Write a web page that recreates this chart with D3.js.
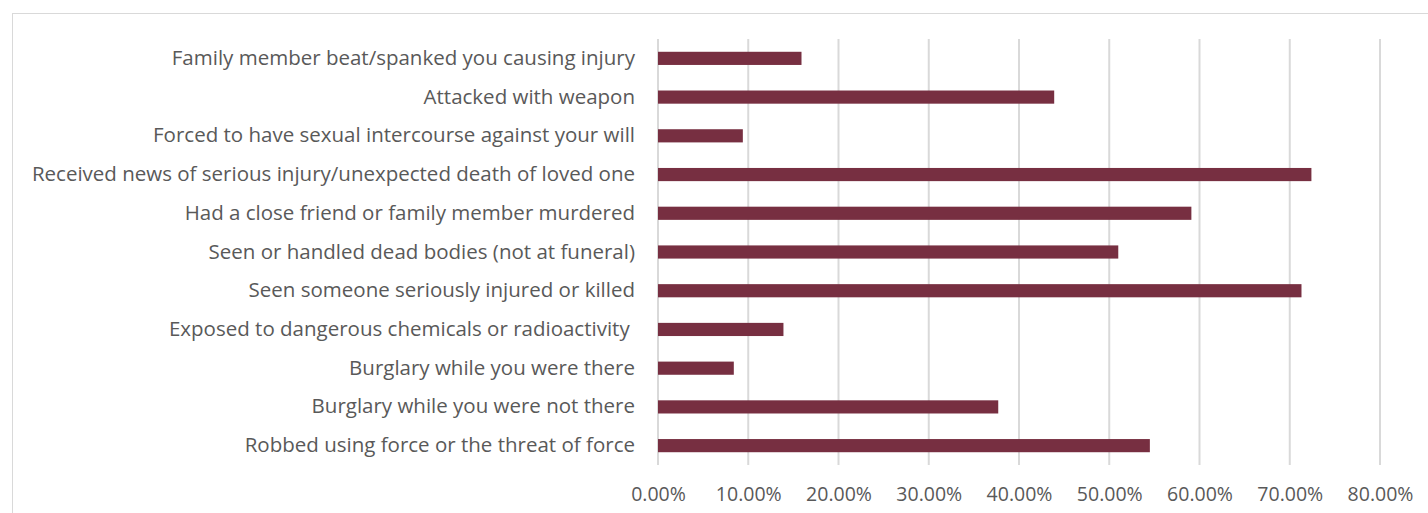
<!DOCTYPE html>
<html>
<head>
<meta charset="utf-8">
<script src="https://cdn.jsdelivr.net/npm/d3@7"></script>
<style>
    body { margin: 0; background: #fff; }
    text { font-family: "Open Sans", Lato, sans-serif; fill: #595959; }
</style>
</head>
<body>
<script>
const categories = [
    "Family member beat/spanked you causing injury",
    "Attacked with weapon",
    "Forced to have sexual intercourse against your will",
    "Received news of serious injury/unexpected death of loved one",
    "Had a close friend or family member murdered",
    "Seen or handled dead bodies (not at funeral)",
    "Seen someone seriously injured or killed",
    "Exposed to dangerous chemicals or radioactivity ",
    "Burglary while you were there",
    "Burglary while you were not there",
    "Robbed using force or the threat of force"
];
const values = [0.159, 0.439, 0.094, 0.724, 0.591, 0.510, 0.713, 0.139, 0.084, 0.377, 0.545];
const tickValues = [0, 0.1, 0.2, 0.3, 0.4, 0.5, 0.6, 0.7, 0.8];

const svgWidth = 1428;
const svgHeight = 513;
const margin = { top: 39, left: 658, right: 48, bottom: 48 };

const svg = d3.select("body")
    .append("svg")
    .attr("width", svgWidth)
    .attr("height", svgHeight);

// chart border
svg.append("rect")
    .attr("x", 12.5)
    .attr("y", 13.5)
    .attr("width", 1440)
    .attr("height", 520)
    .attr("fill", "none")
    .attr("stroke", "#d9d9d9");

const x = d3.scaleLinear()
    .domain([0, 0.8])
    .range([margin.left, svgWidth - margin.right]);

const y = d3.scaleBand()
    .domain(categories)
    .range([margin.top, svgHeight - margin.bottom])
    .paddingInner(0.66)
    .paddingOuter(0.33);

// gridlines
svg.selectAll(".grid")
    .data(tickValues)
    .enter()
    .append("line")
    .attr("class", "grid")
    .attr("x1", d => x(d))
    .attr("x2", d => x(d))
    .attr("y1", margin.top)
    .attr("y2", svgHeight - margin.bottom)
    .attr("stroke", "#d9d9d9")
    .attr("stroke-width", 2);

svg.selectAll(".bar")
    .data(values)
    .enter()
    .append("rect")
    .attr("class", "bar")
    .attr("x", x(0))
    .attr("y", (d, i) => y(categories[i]))
    .attr("width", d => x(d) - x(0))
    .attr("height", y.bandwidth())
    .attr("fill", "#772f41");

const xAxis = d3.axisBottom(x)
    .tickValues(tickValues)
    .tickSize(0)
    .tickPadding(22)
    .tickFormat(d3.format(".2%"));

svg.append("g")
    .attr("transform", "translate(0," + (svgHeight - margin.bottom) + ")")
    .call(xAxis)
    .call(g => g.select(".domain").remove())
    .selectAll("text")
    .style("font-size", "19.5px");

const yAxis = d3.axisLeft(y)
    .tickSize(0)
    .tickPadding(23);

svg.append("g")
    .attr("transform", "translate(" + margin.left + ",0)")
    .call(yAxis)
    .call(g => g.select(".domain").remove())
    .selectAll("text")
    .style("font-size", "20.5px")
    .style("white-space", "pre");
</script>
</body>
</html>
